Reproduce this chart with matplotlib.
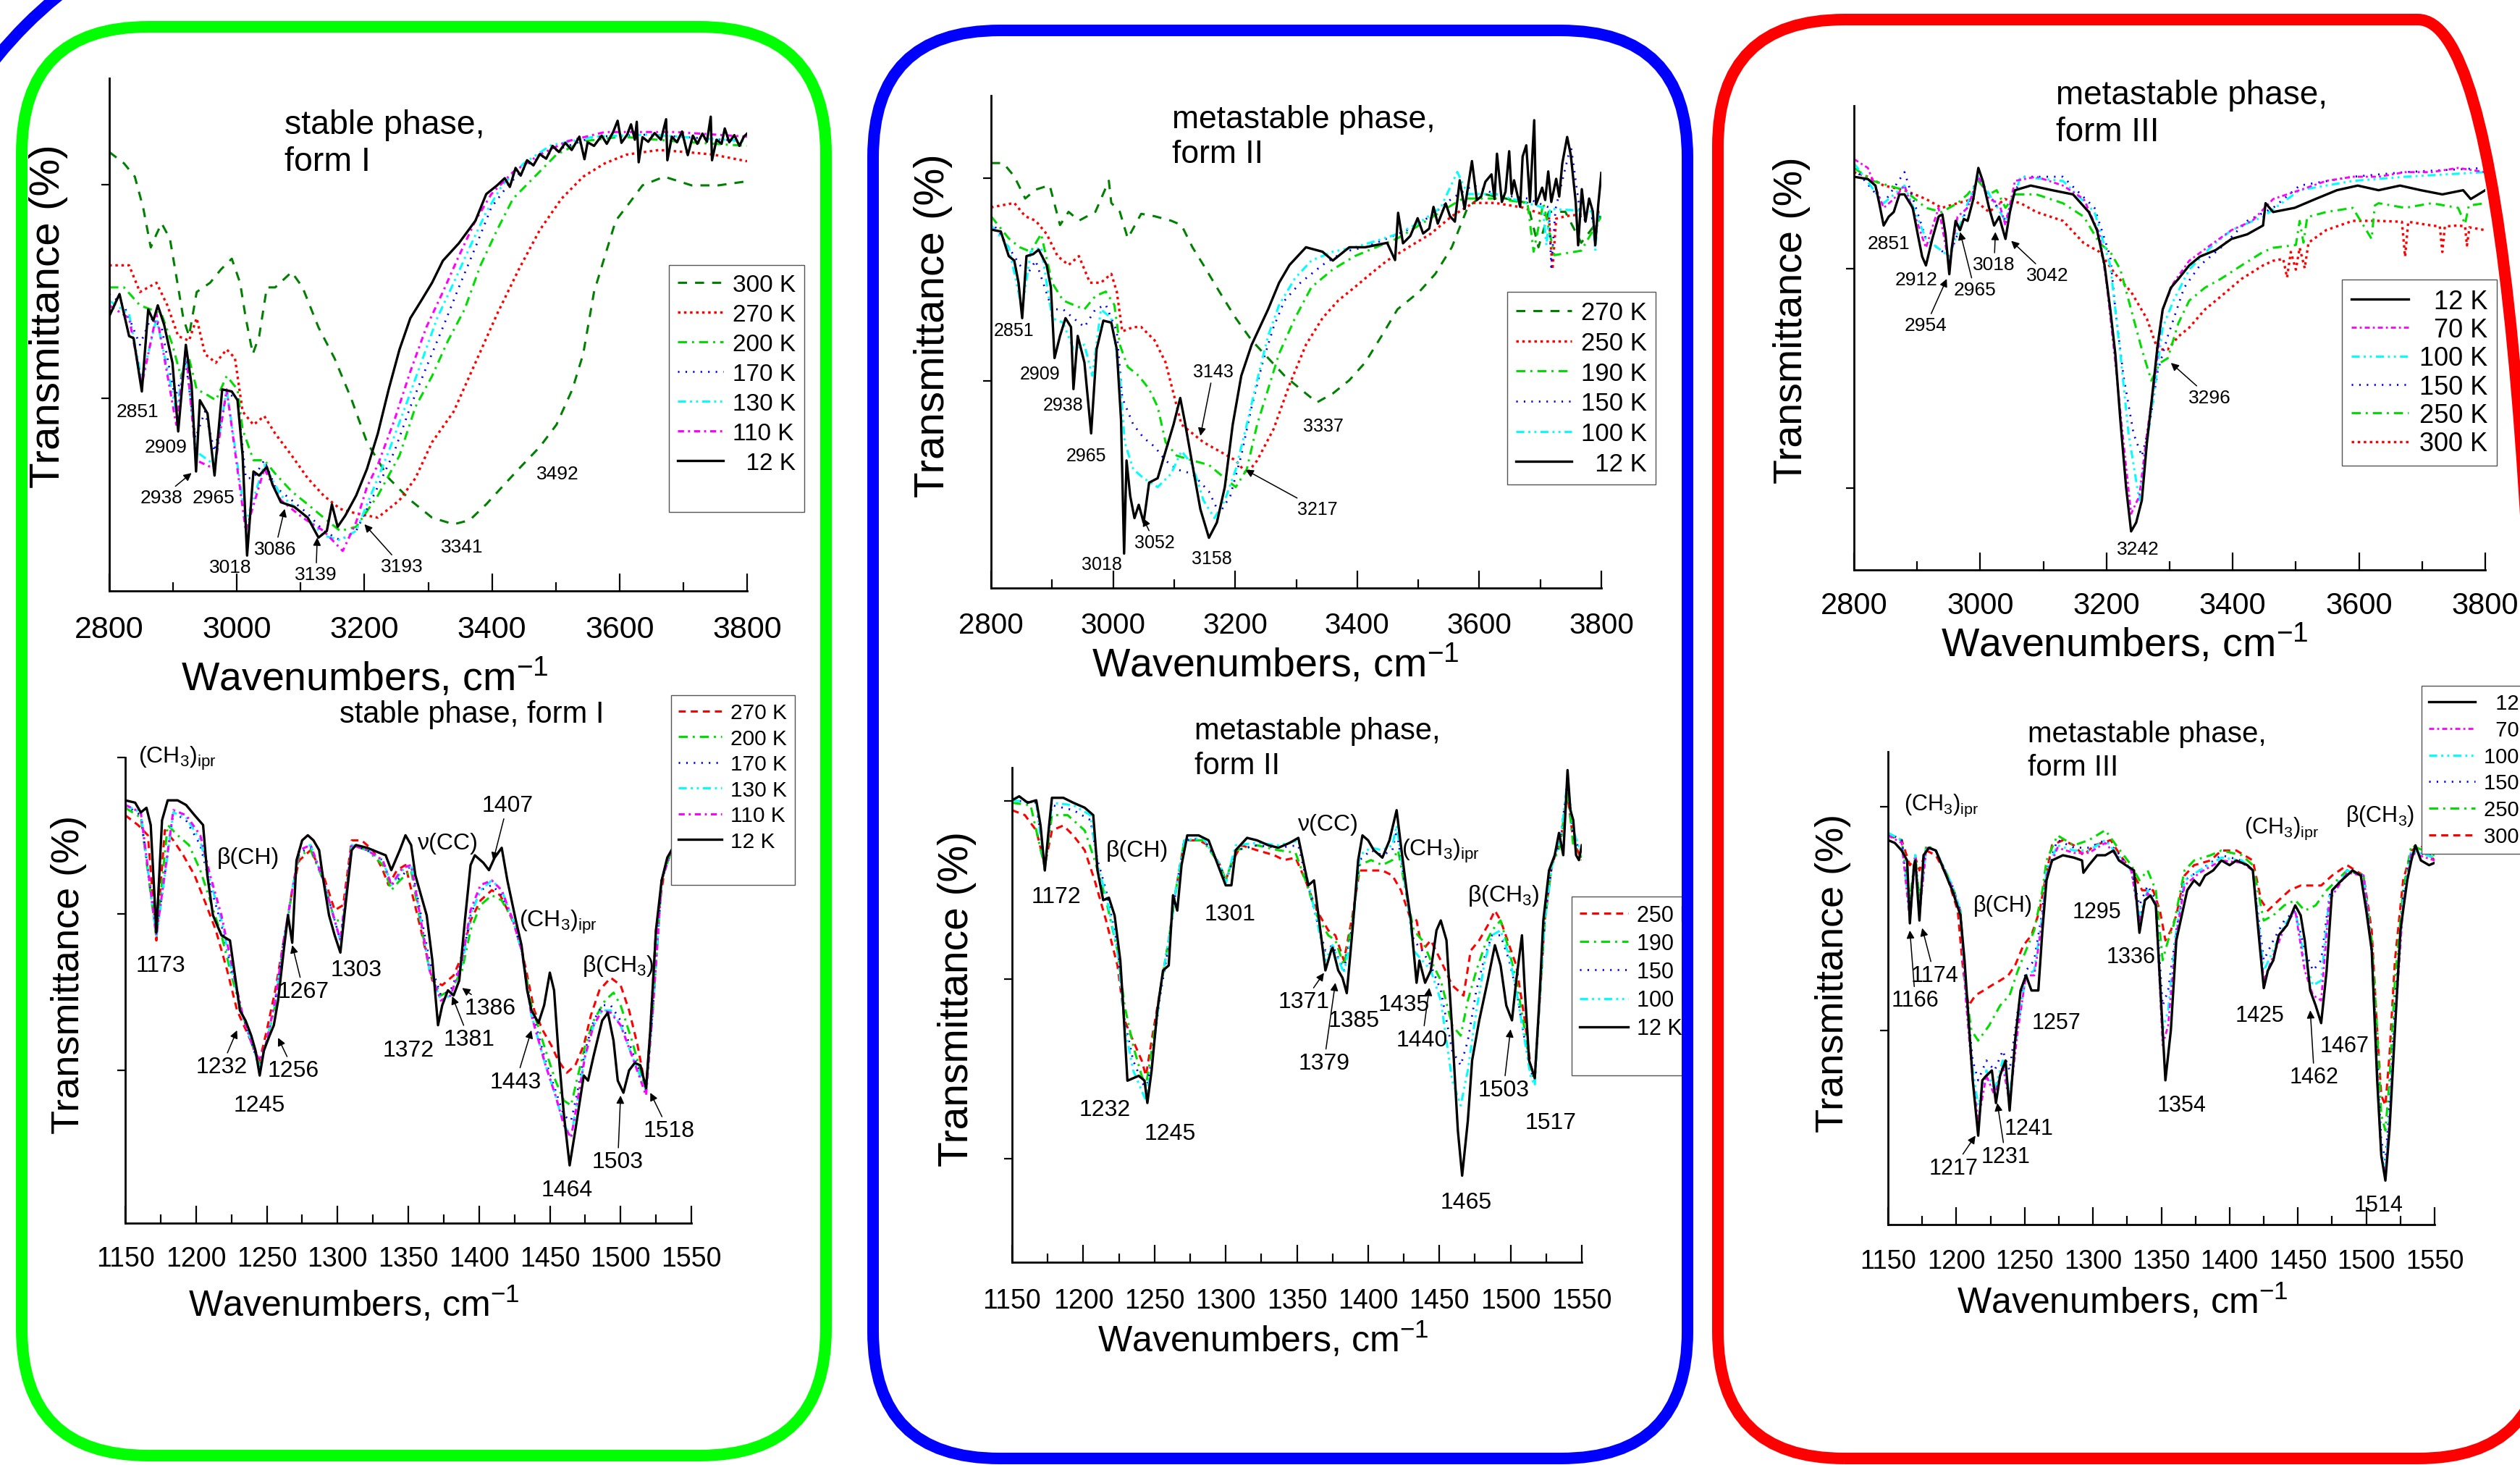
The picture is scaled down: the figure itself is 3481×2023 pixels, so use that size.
import matplotlib
matplotlib.use('Agg')
import matplotlib.pyplot as plt
from matplotlib.patches import FancyBboxPatch, Arc, Rectangle
from matplotlib.lines import Line2D
from matplotlib.transforms import IdentityTransform

plt.rcParams['font.family'] = ['Liberation Sans', 'DejaVu Sans']
plt.rcParams['mathtext.fontset'] = 'custom'
plt.rcParams['mathtext.rm'] = 'Liberation Sans'
plt.rcParams['mathtext.it'] = 'Liberation Sans:italic'
plt.rcParams['lines.scale_dashes'] = False

# ---------------- data (wavenumber, transmittance in arbitrary units) ----------------
# stable phase, form I : 2800-3800 cm-1
a_x12 = [2800, 2816, 2831, 2838, 2851, 2861, 2869, 2876, 2886, 2899, 2908, 2920, 2929, 2936, 2942, 2954, 2965, 2977, 2992, 3001,
         3009, 3016, 3026, 3035, 3047, 3056, 3069, 3090, 3111, 3128, 3141, 3149, 3158, 3170, 3187, 3204, 3221, 3238, 3255, 3272,
         3289, 3306, 3323, 3348, 3374, 3391, 3408, 3420, 3428, 3437, 3445, 3455, 3465, 3475, 3485, 3495, 3505, 3515, 3525, 3537,
         3545, 3550, 3560, 3572, 3580, 3590, 3597, 3603, 3612, 3618, 3624, 3627, 3630, 3636, 3645, 3655, 3665, 3673, 3675, 3682,
         3690, 3698, 3707, 3715, 3722, 3730, 3737, 3743, 3745, 3752, 3760, 3765, 3772, 3780, 3788, 3795, 3800]
a_y12 = [53.6, 57.9, 49.7, 49.3, 38.9, 54.9, 52.7, 55.7, 51.9, 44.5, 31.1, 48.0, 40.2, 23.3, 37.2, 34.6, 22.5, 39.3, 38.9, 37.2,
         26.4, 6.9, 23.3, 22.5, 24.2, 20.7, 17.3, 16.4, 14.3, 10.4, 11.7, 16.9, 12.5, 14.7, 18.6, 23.8, 30.7, 39.3, 47.1, 53.2,
         56.6, 60.1, 64.4, 67.8, 72.2, 77.4, 79.1, 80.5, 78.8, 82.5, 81.0, 84.0, 83.0, 85.2, 84.3, 86.8, 85.6, 87.4, 86.0, 88.6,
         84.2, 87.5, 86.8, 88.8, 87.2, 89.5, 91.7, 87.4, 89.0, 91.0, 88.0, 91.5, 83.6, 88.5, 87.6, 89.3, 88.0, 92.0, 84.0, 88.6,
         87.5, 89.6, 85.0, 88.8, 87.2, 89.2, 87.6, 92.5, 84.0, 88.0, 87.2, 90.2, 87.5, 88.9, 86.8, 88.6, 89.2]
a_x300 = [2800, 2823, 2840, 2853, 2865, 2874, 2882, 2895, 2908, 2916, 2925, 2937, 2958, 2975, 2992, 3005, 3014, 3025, 3035, 3047,
          3060, 3086, 3103, 3128, 3153, 3179, 3204, 3238, 3272, 3306, 3340, 3365, 3391, 3416, 3442, 3475, 3501, 3526, 3543, 3560,
          3577, 3594, 3615, 3636, 3670, 3713, 3755, 3800]
a_y300 = [85.6, 83.4, 80.8, 74.8, 67.0, 69.6, 71.7, 68.7, 59.2, 53.2, 49.7, 58.3, 60.1, 62.7, 64.8, 60.1, 53.2, 46.2, 49.7, 59.2,
          59.2, 62.2, 59.2, 51.4, 45.4, 37.6, 29.0, 22.0, 17.7, 14.3, 13.0, 13.8, 16.9, 20.3, 23.8, 28.1, 32.4, 39.3, 46.2, 58.3,
          65.3, 72.2, 75.6, 79.1, 80.8, 79.1, 79.1, 79.9]
a_x270 = [2800, 2831, 2848, 2874, 2891, 2908, 2925, 2937, 2950, 2967, 2984, 2997, 3009, 3026, 3043, 3060, 3086, 3111, 3136, 3162,
          3187, 3221, 3255, 3280, 3306, 3340, 3374, 3408, 3442, 3475, 3509, 3543, 3577, 3611, 3662, 3704, 3747, 3800]
a_y270 = [63.5, 63.5, 58.3, 60.1, 55.7, 49.7, 48.8, 53.2, 46.2, 44.5, 47.1, 45.4, 35.0, 32.4, 34.1, 30.7, 26.4, 22.0, 18.6, 16.0,
          15.1, 14.3, 17.7, 22.0, 29.0, 35.0, 44.5, 54.0, 62.7, 70.4, 76.5, 80.8, 83.4, 85.1, 86.0, 85.6, 85.1, 83.8]
a_x200 = [2800, 2823, 2848, 2865, 2882, 2899, 2912, 2925, 2937, 2950, 2967, 2984, 3001, 3009, 3026, 3043, 3060, 3086, 3111, 3136,
          3162, 3187, 3221, 3255, 3280, 3306, 3331, 3357, 3382, 3408, 3433, 3467, 3501, 3543, 3603, 3687, 3800]
a_y200 = [59.2, 59.2, 55.7, 54.9, 54.0, 48.0, 41.9, 45.4, 39.3, 38.5, 37.2, 41.9, 39.3, 31.5, 25.5, 25.5, 22.9, 19.4, 16.9, 14.3,
          11.7, 12.5, 18.6, 26.4, 35.9, 41.9, 48.8, 54.9, 63.5, 70.4, 76.5, 80.8, 85.1, 87.7, 88.6, 87.7, 86.8]
a_x170 = [2800, 2823, 2848, 2865, 2882, 2903, 2920, 2935, 2950, 2965, 2984, 3001, 3014, 3026, 3043, 3060, 3086, 3111, 3136, 3162,
          3187, 3221, 3247, 3272, 3297, 3323, 3348, 3374, 3399, 3425, 3458, 3501, 3560, 3645, 3800]
a_y170 = [57.9, 55.7, 48.0, 53.2, 51.4, 37.6, 44.5, 29.8, 35.0, 27.2, 38.5, 37.6, 22.0, 22.0, 25.5, 20.3, 17.7, 15.1, 11.7, 9.9,
          11.7, 20.3, 27.2, 35.9, 43.6, 51.4, 59.2, 67.0, 74.8, 79.1, 83.4, 86.0, 88.6, 89.0, 87.7]
a_x130 = [2800, 2831, 2851, 2874, 2905, 2920, 2936, 2965, 2984, 3014, 3043, 3069, 3103, 3136, 3162, 3187, 3221, 3238, 3264, 3289,
          3314, 3340, 3365, 3391, 3416, 3450, 3492, 3560, 3645, 3800]
a_y130 = [56.6, 54.0, 41.1, 53.2, 35.0, 46.2, 27.2, 24.6, 39.3, 13.4, 24.6, 18.6, 15.1, 10.8, 9.9, 11.7, 22.0, 27.2, 35.9, 44.5,
          53.2, 60.1, 67.0, 73.9, 79.1, 83.4, 86.9, 88.6, 89.0, 87.7]
a_x110 = [2800, 2831, 2851, 2874, 2905, 2920, 2936, 2965, 2984, 3014, 3043, 3069, 3103, 3136, 3166, 3187, 3204, 3221, 3247, 3272,
          3297, 3323, 3348, 3374, 3399, 3433, 3475, 3518, 3577, 3687, 3800]
a_y110 = [55.7, 53.2, 40.2, 54.0, 32.4, 47.1, 25.5, 23.8, 39.3, 11.7, 23.8, 17.7, 14.3, 11.7, 7.8, 13.4, 20.3, 24.6, 33.3, 42.8,
          51.4, 58.3, 65.3, 72.2, 77.4, 81.7, 85.1, 87.7, 89.5, 89.5, 88.6]

# metastable phase, form II : 2800-3800 cm-1
b_x12 = [2800, 2816, 2829, 2838, 2845, 2851, 2858, 2869, 2878, 2891, 2898, 2904, 2913, 2922, 2931, 2935, 2942, 2953, 2964, 2973,
         2984, 2997, 3006, 3013, 3018, 3022, 3028, 3035, 3042, 3050, 3059, 3073, 3086, 3099, 3110, 3117, 3130, 3143, 3157, 3170,
         3183, 3196, 3210, 3227, 3254, 3272, 3289, 3316, 3343, 3360, 3387, 3413, 3449, 3462, 3467, 3475, 3487, 3499, 3508, 3518,
         3525, 3532, 3545, 3552, 3560, 3568, 3576, 3588, 3596, 3603, 3610, 3620, 3625, 3629, 3637, 3643, 3649, 3653, 3657, 3667,
         3671, 3677, 3683, 3690, 3693, 3698, 3703, 3708, 3713, 3718, 3726, 3731, 3736, 3744, 3750, 3758, 3762, 3768, 3774, 3780,
         3786, 3790, 3795, 3800]
b_y12 = [72.8, 72.4, 67.4, 66.5, 62.0, 54.8, 67.4, 67.8, 68.7, 65.6, 61.1, 46.7, 51.2, 54.8, 53.0, 40.4, 51.2, 45.8, 31.4, 48.5,
         54.3, 53.9, 48.5, 34.1, 7.0, 25.9, 18.7, 14.2, 16.9, 13.3, 21.4, 22.3, 27.8, 33.2, 38.6, 34.1, 25.0, 16.0, 10.2, 13.3,
         20.5, 33.2, 43.1, 49.4, 56.6, 62.0, 65.6, 69.2, 68.3, 66.5, 69.2, 69.2, 70.1, 66.6, 76.2, 70.0, 71.5, 75.1, 72.0, 73.0,
         77.4, 74.0, 78.1, 75.5, 74.4, 82.8, 77.0, 86.7, 78.8, 79.5, 82.5, 84.0, 79.0, 88.2, 78.4, 80.5, 88.7, 80.0, 82.8, 77.4,
         87.6, 89.9, 78.4, 95.0, 77.9, 79.5, 81.3, 78.8, 84.6, 78.4, 83.1, 79.5, 86.2, 91.6, 87.9, 78.4, 69.6, 81.0, 74.4, 79.1,
         76.5, 69.6, 77.9, 84.3]
b_x270 = [2800, 2820, 2838, 2856, 2873, 2896, 2913, 2927, 2944, 2971, 2993, 2997, 3011, 3024, 3046, 3068, 3095, 3112, 3130, 3148,
          3174, 3201, 3227, 3254, 3281, 3307, 3334, 3360, 3387, 3413, 3440, 3466, 3502, 3528, 3555, 3581, 3608, 3643, 3679, 3697,
          3714, 3741, 3767, 3800]
b_y270 = [86.3, 86.3, 83.6, 79.1, 80.9, 81.8, 73.7, 76.4, 74.6, 76.4, 82.7, 78.2, 76.4, 71.0, 76.0, 75.5, 74.6, 73.7, 69.2, 65.6,
          60.2, 54.8, 50.3, 46.7, 43.1, 40.4, 37.7, 39.5, 42.2, 45.8, 51.2, 56.6, 60.2, 63.8, 69.2, 77.3, 80.0, 79.1, 78.2, 69.2,
          76.4, 76.4, 70.1, 75.5]
b_x250 = [2800, 2838, 2856, 2873, 2891, 2909, 2927, 2944, 2962, 2980, 2997, 3006, 3015, 3033, 3046, 3068, 3086, 3099, 3112, 3130,
          3148, 3174, 3201, 3219, 3236, 3263, 3289, 3316, 3343, 3369, 3396, 3422, 3449, 3484, 3520, 3555, 3590, 3626, 3670, 3714,
          3720, 3726, 3741, 3800]
b_y250 = [77.3, 78.2, 75.5, 74.6, 71.9, 67.4, 65.6, 67.4, 62.0, 62.0, 63.8, 60.2, 52.1, 53.0, 53.0, 50.3, 45.8, 39.5, 33.2, 31.4,
          29.6, 27.8, 25.9, 23.2, 25.9, 32.3, 41.3, 49.4, 54.8, 58.4, 61.1, 63.8, 66.5, 69.2, 71.9, 75.5, 78.2, 78.2, 77.3, 75.5,
          64.7, 75.0, 75.5, 76.4]
b_x190 = [2800, 2829, 2847, 2865, 2882, 2900, 2918, 2935, 2953, 2971, 2988, 3002, 3011, 3024, 3042, 3059, 3073, 3086, 3104, 3130,
          3157, 3183, 3201, 3219, 3236, 3254, 3272, 3298, 3325, 3360, 3396, 3431, 3466, 3502, 3537, 3573, 3626, 3679, 3689, 3705,
          3723, 3767, 3800]
b_y190 = [75.5, 71.0, 69.2, 68.3, 71.9, 62.0, 58.4, 57.5, 56.6, 59.3, 60.2, 57.5, 49.4, 44.9, 43.1, 40.4, 36.8, 29.6, 26.9, 25.9,
          25.0, 22.3, 20.5, 24.1, 33.2, 40.4, 47.6, 54.8, 61.1, 64.7, 67.4, 69.2, 71.0, 73.7, 76.4, 79.1, 79.1, 78.2, 68.3, 78.2,
          67.6, 68.5, 75.5]
b_x150 = [2800, 2829, 2847, 2860, 2873, 2900, 2918, 2935, 2953, 2971, 2988, 3006, 3015, 3033, 3050, 3068, 3086, 3104, 3130, 3157,
          3174, 3192, 3210, 3227, 3245, 3263, 3281, 3307, 3343, 3378, 3413, 3449, 3484, 3520, 3555, 3590, 3626, 3679, 3714, 3718,
          3725, 3750, 3767, 3800]
b_y150 = [74.6, 69.2, 65.6, 63.8, 66.5, 56.6, 56.6, 54.8, 53.0, 56.6, 57.5, 52.1, 38.6, 33.2, 30.5, 28.7, 25.9, 24.1, 23.2, 19.6,
          15.1, 18.7, 26.9, 36.8, 45.8, 53.0, 58.4, 62.0, 65.6, 68.3, 69.2, 71.0, 72.8, 75.5, 79.1, 81.8, 80.0, 79.1, 77.3, 65.2,
          77.0, 89.9, 74.6, 75.5]
b_x100 = [2800, 2829, 2851, 2865, 2882, 2900, 2918, 2935, 2953, 2966, 2980, 2997, 3011, 3019, 3033, 3050, 3073, 3095, 3112, 3130,
          3148, 3166, 3183, 3201, 3219, 3236, 3254, 3272, 3298, 3325, 3360, 3396, 3431, 3466, 3502, 3537, 3564, 3581, 3626, 3704,
          3710, 3716, 3785, 3790, 3795, 3800]
b_y100 = [73.7, 69.2, 56.6, 68.3, 69.2, 54.8, 53.9, 48.5, 49.4, 43.1, 56.6, 54.8, 43.1, 29.6, 24.1, 22.3, 20.5, 23.2, 27.8, 25.0,
          17.8, 14.2, 17.8, 24.1, 33.2, 42.2, 51.2, 57.5, 62.9, 66.5, 68.3, 69.2, 70.5, 71.9, 74.2, 77.3, 84.5, 80.0, 80.0, 77.3,
          69.6, 77.0, 76.5, 68.5, 76.0, 76.4]

# metastable phase, form III : 2800-3800 cm-1
c_x12 = [2800, 2822, 2834, 2840, 2847, 2855, 2863, 2872, 2880, 2893, 2901, 2908, 2914, 2924, 2934, 2940, 2945, 2951, 2955, 2961,
         2968, 2974, 2980, 2989, 2997, 3004, 3014, 3022, 3030, 3040, 3047, 3055, 3080, 3114, 3147, 3172, 3185, 3197, 3206, 3214,
         3222, 3231, 3239, 3247, 3256, 3264, 3272, 3281, 3289, 3302, 3314, 3331, 3348, 3373, 3398, 3423, 3448, 3452, 3464, 3498,
         3531, 3565, 3598, 3631, 3665, 3698, 3732, 3765, 3777, 3800]
c_y12 = [84.7, 84.2, 82.8, 79.0, 74.2, 76.1, 77.1, 80.9, 80.9, 78.0, 72.3, 67.5, 65.6, 71.3, 76.1, 76.6, 72.3, 63.7, 69.4, 75.2,
         73.2, 75.6, 75.2, 79.9, 86.6, 83.8, 78.0, 74.2, 76.1, 71.3, 77.1, 81.8, 82.8, 81.8, 80.9, 77.1, 73.2, 65.6, 56.1, 46.5,
         32.2, 17.9, 8.3, 10.2, 15.0, 27.4, 37.0, 48.4, 56.1, 60.8, 62.7, 65.6, 67.5, 68.9, 71.3, 72.3, 74.2, 79.0, 77.1, 78.0,
         79.9, 81.8, 82.8, 81.8, 82.8, 81.8, 80.9, 81.8, 79.9, 81.8]
c_x70 = [2800, 2822, 2847, 2863, 2880, 2914, 2934, 2951, 2964, 2980, 2997, 3014, 3030, 3040, 3055, 3089, 3131, 3164, 3189, 3201,
         3214, 3227, 3239, 3252, 3264, 3277, 3289, 3306, 3331, 3364, 3398, 3431, 3464, 3506, 3548, 3590, 3631, 3673, 3715, 3757,
         3800]
c_y70 = [88.5, 86.6, 78.0, 79.9, 82.8, 69.4, 78.0, 65.6, 76.1, 78.0, 84.7, 79.9, 79.0, 74.2, 83.8, 84.7, 82.8, 79.9, 72.3, 60.8,
         44.6, 27.4, 12.1, 15.9, 29.3, 41.7, 56.1, 61.8, 66.6, 69.9, 73.2, 75.2, 79.9, 81.8, 83.8, 84.7, 84.7, 85.7, 85.7, 86.6,
         85.7]
c_x100 = [2800, 2847, 2880, 2914, 2951, 2980, 2997, 3040, 3064, 3131, 3181, 3206, 3222, 3235, 3252, 3264, 3277, 3289, 3306, 3331,
          3364, 3398, 3448, 3506, 3590, 3673, 3800]
c_y100 = [87.6, 79.0, 82.8, 71.3, 67.5, 79.0, 84.7, 75.2, 84.7, 83.8, 77.1, 65.6, 46.5, 29.3, 15.0, 27.4, 39.8, 52.2, 58.0, 64.7,
          69.4, 73.2, 76.1, 81.8, 83.8, 84.7, 85.7]
c_x150 = [2800, 2847, 2880, 2914, 2951, 2997, 3040, 3064, 3131, 3181, 3206, 3214, 3227, 3243, 3256, 3268, 3281, 3297, 3323, 3348,
          3381, 3423, 3464, 3506, 3590, 3673, 3800]
c_y150 = [86.6, 79.0, 85.7, 71.3, 67.5, 84.7, 75.2, 84.7, 84.7, 78.0, 67.5, 56.1, 41.7, 29.3, 24.5, 31.2, 42.7, 50.3, 60.8, 65.6,
          69.4, 75.2, 78.0, 82.8, 84.7, 85.7, 86.6]
c_x250 = [2800, 2830, 2855, 2880, 2914, 2939, 2964, 2980, 2997, 3014, 3026, 3040, 3055, 3089, 3131, 3164, 3189, 3206, 3222, 3239,
          3256, 3271, 3285, 3297, 3314, 3331, 3356, 3381, 3414, 3448, 3464, 3500, 3506, 3512, 3518, 3548, 3590, 3620, 3625, 3631,
          3673, 3715, 3757, 3768, 3774, 3800]
c_y250 = [86.6, 83.8, 82.8, 81.8, 78.0, 77.1, 79.0, 80.9, 83.8, 80.9, 81.8, 78.0, 80.9, 80.9, 79.0, 76.1, 70.4, 68.5, 64.7, 56.1,
          47.5, 40.8, 44.6, 45.6, 53.2, 58.0, 60.8, 62.7, 65.6, 68.5, 69.4, 70.0, 75.2, 70.5, 76.0, 77.1, 78.0, 71.3, 78.5, 79.0,
          78.0, 79.0, 78.0, 74.5, 78.5, 79.0]
c_x300 = [2800, 2822, 2847, 2880, 2914, 2939, 2964, 2989, 3014, 3039, 3064, 3089, 3131, 3164, 3189, 3214, 3239, 3264, 3281, 3297,
          3314, 3331, 3356, 3381, 3414, 3448, 3464, 3480, 3486, 3492, 3500, 3506, 3514, 3520, 3548, 3590, 3631, 3668, 3673, 3678,
          3715, 3728, 3732, 3736, 3757, 3768, 3771, 3775, 3800]
c_y300 = [85.7, 84.7, 82.8, 81.8, 79.9, 78.0, 79.0, 79.9, 77.1, 79.9, 79.0, 77.1, 75.2, 70.4, 68.5, 63.7, 59.9, 54.1, 47.5, 47.5,
          50.3, 52.2, 56.1, 58.9, 62.7, 65.6, 66.6, 67.0, 63.0, 68.5, 64.7, 69.4, 65.0, 70.5, 73.2, 75.2, 75.2, 75.0, 67.5, 75.0,
          74.2, 74.0, 68.5, 74.0, 74.2, 74.0, 69.9, 73.8, 73.2]

# stable phase, form I : 1150-1550 cm-1
d_x12 = [1150, 1157, 1161, 1165, 1168, 1172, 1176, 1180, 1187, 1193, 1199, 1205, 1208, 1212, 1218, 1224, 1227, 1231, 1235, 1239,
         1242, 1245, 1248, 1252, 1255, 1258, 1262, 1265, 1268, 1271, 1275, 1279, 1283, 1287, 1290, 1294, 1298, 1302, 1306, 1310,
         1313, 1321, 1329, 1334, 1338, 1344, 1348, 1352, 1355, 1359, 1363, 1367, 1371, 1374, 1378, 1382, 1386, 1390, 1394, 1397,
         1403, 1407, 1411, 1416, 1420, 1426, 1430, 1434, 1437, 1442, 1446, 1450, 1453, 1456, 1460, 1464, 1468, 1474, 1477, 1481,
         1487, 1491, 1495, 1498, 1502, 1506, 1510, 1514, 1518, 1521, 1525, 1529, 1533, 1536]
d_y12 = [90.8, 90.3, 88.2, 89.2, 85.5, 62.4, 86.5, 90.8, 90.8, 89.8, 87.6, 85.5, 74.7, 66.1, 61.8, 60.7, 54.3, 45.7, 43.5, 40.3,
         37.1, 31.7, 37.1, 40.3, 42.5, 47.8, 58.6, 66.1, 60.2, 77.9, 82.2, 83.3, 82.2, 80.1, 73.6, 66.1, 61.8, 58.1, 69.3, 80.1,
         81.2, 80.6, 79.6, 79.0, 75.8, 80.1, 83.3, 81.2, 74.7, 70.4, 66.1, 56.4, 42.5, 46.8, 50.0, 48.9, 52.1, 65.0, 76.9, 79.0,
         77.4, 75.8, 78.5, 80.6, 73.6, 65.0, 59.7, 50.0, 45.7, 43.0, 46.8, 53.8, 50.0, 37.1, 23.1, 12.4, 19.9, 31.7, 30.6, 36.0,
         43.5, 45.2, 39.2, 30.6, 28.0, 32.8, 34.4, 33.9, 29.0, 41.4, 62.9, 73.6, 78.5, 80.1]
d_x270 = [1150, 1159, 1166, 1172, 1178, 1184, 1191, 1199, 1206, 1214, 1222, 1229, 1237, 1245, 1250, 1256, 1262, 1268, 1273, 1281,
          1290, 1298, 1304, 1310, 1317, 1325, 1332, 1336, 1342, 1348, 1353, 1359, 1367, 1374, 1382, 1388, 1394, 1401, 1409, 1415,
          1422, 1428, 1434, 1439, 1445, 1451, 1456, 1462, 1468, 1474, 1479, 1485, 1493, 1500, 1506, 1512, 1518, 1521, 1525, 1531,
          1536]
d_y270 = [87.6, 85.5, 83.3, 60.7, 84.4, 82.2, 79.0, 74.7, 69.3, 62.9, 54.3, 45.7, 40.3, 34.9, 41.4, 50.0, 60.7, 71.5, 77.9, 80.1,
          74.7, 67.2, 68.3, 82.2, 82.2, 80.1, 75.8, 72.6, 75.8, 76.9, 70.4, 62.9, 52.1, 51.1, 53.2, 57.5, 65.0, 69.3, 71.5, 70.4,
          66.1, 61.8, 53.2, 45.7, 41.4, 38.2, 34.9, 32.3, 33.9, 38.2, 44.6, 50.0, 52.7, 51.1, 45.7, 38.2, 28.5, 41.4, 62.9, 75.8,
          80.1]
d_x200 = [1150, 1161, 1172, 1180, 1187, 1195, 1203, 1210, 1218, 1226, 1233, 1241, 1245, 1250, 1256, 1262, 1268, 1273, 1281, 1290,
          1298, 1304, 1310, 1321, 1332, 1338, 1344, 1352, 1357, 1365, 1373, 1380, 1388, 1394, 1401, 1409, 1416, 1424, 1430, 1437,
          1447, 1454, 1460, 1465, 1469, 1475, 1481, 1489, 1495, 1500, 1508, 1518, 1523, 1529, 1536]
d_y200 = [89.2, 87.1, 61.3, 85.5, 83.3, 81.2, 75.8, 69.3, 61.8, 52.1, 44.6, 37.1, 33.9, 39.2, 46.8, 59.7, 71.5, 79.0, 80.1, 73.6,
          65.0, 65.0, 81.2, 80.1, 76.9, 71.5, 73.6, 75.8, 67.2, 54.3, 48.9, 50.0, 54.3, 62.9, 68.3, 70.4, 69.3, 65.0, 58.6, 46.8,
          37.1, 30.6, 26.3, 25.3, 30.6, 38.2, 43.5, 47.8, 49.5, 46.8, 39.2, 28.5, 46.8, 73.6, 80.1]
d_xcold = [1150, 1161, 1172, 1184, 1193, 1203, 1210, 1218, 1226, 1233, 1241, 1245, 1250, 1256, 1262, 1268, 1273, 1281, 1290, 1302,
           1310, 1321, 1332, 1338, 1346, 1352, 1357, 1365, 1373, 1380, 1388, 1394, 1401, 1409, 1416, 1424, 1430, 1437, 1447, 1454,
           1460, 1465, 1469, 1475, 1481, 1487, 1493, 1500, 1508, 1518, 1523, 1529, 1536]
d_y170 = [89.8, 87.6, 61.8, 88.2, 86.5, 81.2, 72.6, 64.0, 53.2, 44.6, 37.1, 33.3, 39.2, 47.8, 60.7, 71.5, 79.6, 80.6, 73.6, 60.7,
          81.2, 80.1, 77.9, 72.6, 74.7, 76.9, 69.3, 56.4, 48.9, 50.0, 56.4, 66.1, 71.5, 72.6, 70.4, 65.0, 58.6, 45.7, 34.9, 28.5,
          23.1, 22.0, 27.4, 37.1, 43.5, 46.8, 46.8, 43.5, 37.1, 28.5, 46.8, 73.6, 80.1]
d_y130 = [89.8, 88.2, 61.3, 88.2, 87.1, 82.2, 73.6, 65.0, 53.2, 44.6, 37.1, 33.9, 39.2, 47.8, 60.7, 71.5, 80.1, 81.2, 73.6, 60.7,
          81.2, 80.1, 77.9, 72.6, 75.8, 76.9, 68.3, 54.3, 47.8, 48.9, 55.4, 66.1, 71.5, 73.6, 71.5, 65.0, 58.6, 44.6, 33.9, 27.4,
          21.0, 18.8, 25.3, 36.0, 42.5, 45.7, 45.7, 42.5, 36.0, 28.5, 46.8, 73.6, 80.1]
d_y110 = [89.8, 88.2, 61.8, 88.7, 87.6, 83.3, 74.7, 66.1, 54.3, 44.6, 37.1, 35.0, 39.2, 47.8, 60.7, 71.5, 80.1, 81.2, 73.6, 60.7,
          81.2, 80.1, 77.9, 72.6, 76.3, 76.9, 68.3, 54.3, 47.8, 48.9, 56.4, 67.2, 72.6, 73.6, 71.5, 65.0, 58.6, 44.6, 33.9, 27.4,
          21.0, 18.3, 25.3, 36.0, 42.5, 45.7, 45.2, 42.5, 36.0, 27.4, 46.8, 73.6, 80.1]

# metastable phase, form II : 1150-1550 cm-1
e_x12 = [1150, 1155, 1161, 1167, 1170, 1173, 1176, 1178, 1186, 1193, 1201, 1207, 1210, 1214, 1218, 1222, 1226, 1228, 1231, 1235,
         1239, 1243, 1245, 1248, 1252, 1256, 1260, 1263, 1266, 1269, 1273, 1281, 1288, 1296, 1300, 1304, 1307, 1315, 1322, 1330,
         1337, 1345, 1351, 1355, 1358, 1362, 1366, 1370, 1374, 1375, 1379, 1382, 1385, 1389, 1393, 1396, 1400, 1404, 1410, 1415,
         1420, 1423, 1427, 1430, 1434, 1436, 1440, 1444, 1448, 1451, 1455, 1459, 1463, 1466, 1470, 1473, 1478, 1484, 1489, 1493,
         1497, 1501, 1504, 1508, 1510, 1513, 1517, 1520, 1523, 1527, 1531, 1534, 1537, 1540, 1542, 1544, 1546, 1548, 1550]
e_y12 = [93.4, 94.2, 92.9, 93.4, 88.3, 79.2, 88.3, 93.9, 93.9, 92.9, 91.9, 90.4, 79.2, 73.2, 73.7, 70.1, 61.0, 51.9, 36.7, 37.2,
         37.7, 36.7, 32.2, 38.8, 50.9, 59.0, 60.0, 74.2, 71.1, 80.3, 86.3, 86.3, 85.3, 79.2, 76.2, 76.2, 83.3, 85.8, 85.3, 84.3,
         83.8, 84.8, 85.8, 80.3, 76.2, 77.2, 68.1, 59.0, 63.0, 63.6, 59.0, 57.5, 54.4, 67.1, 81.3, 86.3, 85.3, 83.3, 81.8, 85.3,
         91.4, 84.3, 75.2, 69.1, 56.5, 61.0, 56.5, 59.0, 67.1, 69.1, 65.1, 46.9, 26.6, 17.5, 28.6, 40.8, 48.9, 57.0, 64.1, 60.0,
         51.9, 48.9, 57.0, 66.1, 55.0, 40.8, 37.2, 51.9, 69.1, 79.2, 82.3, 86.8, 82.3, 99.5, 91.4, 89.4, 82.3, 81.3, 84.3]
e_x250 = [1150, 1159, 1167, 1173, 1178, 1186, 1193, 1201, 1208, 1216, 1224, 1229, 1235, 1241, 1244, 1248, 1254, 1260, 1265, 1271,
          1281, 1288, 1296, 1300, 1305, 1311, 1322, 1334, 1341, 1349, 1356, 1364, 1372, 1377, 1383, 1389, 1394, 1402, 1410, 1417,
          1423, 1429, 1434, 1438, 1444, 1451, 1459, 1467, 1472, 1478, 1484, 1489, 1493, 1499, 1504, 1510, 1514, 1517, 1520, 1524,
          1529, 1535, 1540, 1544, 1550]
e_y250 = [91.4, 90.4, 87.3, 80.3, 87.3, 88.3, 86.3, 83.3, 77.2, 69.1, 60.0, 48.9, 44.8, 40.8, 37.7, 44.8, 55.0, 65.1, 75.2, 85.3,
          85.3, 84.3, 80.3, 77.2, 81.3, 84.3, 83.3, 82.3, 81.3, 81.8, 77.2, 71.1, 67.1, 66.1, 61.0, 70.1, 79.2, 79.2, 79.2, 78.2,
          75.2, 70.1, 69.1, 63.0, 65.1, 61.0, 56.0, 53.9, 63.0, 65.1, 68.1, 71.1, 69.1, 64.1, 60.0, 48.9, 39.8, 37.7, 50.9, 69.1,
          80.3, 85.3, 94.4, 85.3, 81.3]
e_x190 = [1150, 1163, 1173, 1178, 1189, 1201, 1208, 1216, 1224, 1229, 1235, 1241, 1244, 1248, 1254, 1260, 1265, 1271, 1284, 1296,
          1300, 1307, 1322, 1337, 1349, 1356, 1364, 1372, 1377, 1383, 1389, 1394, 1402, 1410, 1417, 1421, 1427, 1432, 1438, 1444,
          1451, 1459, 1465, 1470, 1476, 1482, 1487, 1493, 1499, 1504, 1510, 1514, 1517, 1520, 1524, 1529, 1535, 1540, 1544, 1550]
e_y190 = [92.9, 92.4, 79.7, 90.4, 90.4, 87.3, 81.3, 73.2, 63.0, 51.9, 43.8, 37.7, 35.7, 42.8, 55.0, 65.1, 75.2, 85.3, 85.3, 80.3,
          77.2, 83.3, 84.3, 83.3, 82.8, 77.2, 70.1, 66.1, 65.1, 60.0, 69.1, 80.3, 81.3, 80.3, 81.3, 83.3, 74.2, 67.1, 65.1, 61.0,
          57.0, 47.9, 45.8, 52.9, 59.0, 64.1, 67.1, 69.1, 63.0, 57.0, 46.9, 38.8, 36.7, 50.9, 69.1, 80.3, 84.3, 95.4, 84.3, 81.8]
e_xcold = [1150, 1167, 1173, 1178, 1193, 1205, 1210, 1216, 1224, 1229, 1235, 1241, 1244, 1248, 1254, 1260, 1265, 1271, 1284, 1296,
           1300, 1307, 1322, 1337, 1351, 1356, 1364, 1370, 1375, 1383, 1389, 1394, 1402, 1410, 1417, 1420, 1427, 1432, 1438, 1444,
           1451, 1459, 1465, 1470, 1476, 1482, 1487, 1493, 1499, 1504, 1510, 1514, 1517, 1520, 1524, 1529, 1535, 1540, 1544, 1550]
e_y150 = [93.4, 92.9, 79.4, 92.4, 91.4, 89.4, 81.3, 75.2, 64.1, 48.9, 40.8, 36.7, 34.7, 40.8, 53.9, 64.1, 75.2, 85.3, 85.8, 80.3,
          76.7, 83.3, 84.3, 83.8, 84.3, 78.2, 69.1, 63.0, 64.1, 59.0, 68.1, 81.3, 83.3, 82.3, 83.3, 87.3, 74.2, 65.1, 63.0, 60.0,
          55.0, 42.8, 39.8, 44.8, 55.0, 62.0, 66.1, 66.1, 61.0, 55.0, 44.8, 38.8, 36.7, 51.9, 69.1, 80.3, 85.3, 97.5, 86.3, 82.3]
e_y100 = [93.4, 92.9, 79.4, 92.9, 92.4, 90.4, 80.3, 74.2, 63.0, 47.9, 38.8, 34.7, 32.7, 39.8, 55.0, 65.1, 75.2, 85.3, 85.8, 80.3,
          76.7, 84.3, 84.8, 84.3, 85.3, 79.2, 69.1, 61.0, 64.1, 58.5, 67.1, 82.3, 83.8, 83.3, 84.3, 88.3, 74.2, 63.0, 61.0, 59.0,
          52.9, 36.7, 31.7, 38.8, 50.9, 61.0, 66.1, 67.1, 62.0, 55.0, 44.8, 37.7, 35.7, 50.9, 69.1, 80.3, 85.3, 97.5, 87.3, 82.3]

# metastable phase, form III : 1150-1550 cm-1
f_x12 = [1150, 1155, 1160, 1164, 1166, 1169, 1170, 1173, 1176, 1180, 1185, 1191, 1197, 1203, 1206, 1209, 1212, 1216, 1219, 1222,
         1226, 1229, 1232, 1236, 1239, 1243, 1247, 1251, 1255, 1260, 1263, 1266, 1270, 1278, 1286, 1292, 1293, 1297, 1303, 1309,
         1315, 1319, 1324, 1330, 1334, 1338, 1342, 1346, 1349, 1353, 1357, 1361, 1365, 1369, 1374, 1378, 1382, 1388, 1394, 1400,
         1405, 1413, 1417, 1421, 1425, 1428, 1432, 1436, 1442, 1448, 1452, 1455, 1459, 1463, 1467, 1471, 1475, 1482, 1490, 1496,
         1500, 1504, 1508, 1511, 1514, 1517, 1521, 1525, 1530, 1533, 1536, 1540, 1546, 1550]
f_y12 = [81.3, 80.7, 79.1, 77.0, 63.7, 76.0, 77.0, 64.3, 78.1, 79.7, 79.1, 74.9, 70.7, 65.4, 55.9, 43.2, 30.5, 18.8, 30.5, 31.5,
         32.6, 25.7, 31.5, 34.7, 24.1, 38.9, 49.5, 52.7, 49.5, 49.5, 62.2, 72.8, 77.0, 78.1, 77.6, 77.0, 74.4, 76.0, 78.1, 78.1,
         79.1, 77.0, 76.0, 74.9, 61.7, 68.6, 69.6, 67.5, 51.6, 30.5, 41.1, 60.1, 65.4, 70.7, 72.8, 71.7, 73.8, 74.9, 77.0, 76.0,
         77.0, 76.0, 74.9, 62.2, 50.0, 53.7, 55.9, 61.2, 63.3, 67.5, 65.4, 60.1, 49.5, 46.3, 42.6, 53.7, 70.7, 72.8, 74.9, 73.8,
         66.4, 58.0, 30.5, 14.6, 9.3, 19.9, 41.1, 62.2, 72.8, 77.0, 80.2, 77.0, 76.0, 76.5]
f_x300 = [1150, 1160, 1166, 1170, 1173, 1178, 1185, 1193, 1201, 1205, 1209, 1214, 1220, 1226, 1232, 1238, 1243, 1249, 1255, 1261,
          1265, 1270, 1278, 1286, 1293, 1301, 1313, 1320, 1328, 1336, 1344, 1349, 1353, 1357, 1361, 1367, 1374, 1386, 1394, 1405,
          1417, 1423, 1428, 1436, 1444, 1452, 1459, 1467, 1475, 1486, 1498, 1504, 1508, 1511, 1514, 1517, 1521, 1527, 1533, 1540,
          1550]
f_y300 = [82.3, 81.3, 76.0, 77.6, 74.9, 79.1, 78.1, 73.8, 66.4, 53.7, 46.3, 48.5, 49.5, 50.6, 51.6, 52.7, 54.8, 59.0, 61.2, 66.4,
          72.8, 80.2, 81.3, 80.2, 78.1, 80.2, 81.3, 78.1, 74.9, 70.7, 70.7, 66.4, 60.1, 62.2, 65.4, 73.8, 76.0, 77.0, 79.1, 79.1,
          77.0, 68.6, 66.4, 68.6, 70.7, 71.7, 71.7, 71.7, 73.8, 76.0, 73.8, 62.2, 41.1, 27.3, 25.2, 35.8, 55.9, 72.8, 79.1, 80.2,
          77.0]
f_x250 = [1150, 1160, 1166, 1170, 1173, 1178, 1185, 1197, 1203, 1207, 1211, 1216, 1224, 1232, 1239, 1245, 1251, 1257, 1263, 1266,
          1274, 1286, 1297, 1309, 1317, 1328, 1334, 1340, 1346, 1351, 1355, 1359, 1367, 1374, 1386, 1394, 1409, 1417, 1425, 1432,
          1440, 1448, 1455, 1463, 1471, 1486, 1498, 1504, 1508, 1511, 1514, 1517, 1521, 1527, 1533, 1550]
f_y250 = [82.8, 81.3, 68.6, 78.1, 68.6, 80.2, 79.1, 71.7, 66.4, 49.5, 41.1, 38.9, 42.1, 46.3, 48.5, 53.7, 58.0, 62.2, 70.7, 77.0,
          82.3, 80.2, 81.3, 83.4, 80.2, 76.0, 72.8, 74.9, 70.7, 55.9, 60.1, 63.3, 74.9, 77.0, 78.1, 79.1, 78.1, 76.0, 64.3, 65.4,
          67.5, 68.6, 66.4, 67.5, 70.7, 74.9, 73.8, 60.1, 41.1, 23.1, 19.9, 30.5, 51.6, 70.7, 80.2, 78.1]
f_xcold = [1150, 1160, 1166, 1170, 1173, 1178, 1185, 1197, 1203, 1207, 1212, 1216, 1222, 1228, 1234, 1239, 1245, 1251, 1257, 1263,
           1266, 1274, 1286, 1297, 1309, 1317, 1328, 1334, 1340, 1346, 1351, 1355, 1361, 1367, 1378, 1394, 1409, 1417, 1425, 1432,
           1440, 1448, 1455, 1461, 1467, 1473, 1486, 1498, 1504, 1508, 1511, 1514, 1517, 1521, 1527, 1533, 1550]
f_y150 = [82.8, 81.3, 66.4, 78.1, 66.4, 79.7, 79.1, 71.7, 66.4, 49.5, 34.7, 30.5, 34.7, 32.6, 36.8, 32.6, 45.3, 53.7, 55.9, 66.4,
          74.9, 81.3, 79.7, 79.7, 81.3, 79.1, 74.9, 67.5, 71.7, 68.6, 46.3, 49.5, 62.2, 72.8, 74.9, 78.1, 77.0, 74.9, 55.9, 60.1,
          64.3, 66.4, 58.0, 53.7, 55.9, 69.6, 74.9, 73.8, 58.0, 34.7, 17.8, 13.5, 25.2, 46.3, 69.6, 79.1, 77.6]
f_y100 = [82.8, 81.3, 65.4, 78.1, 65.9, 79.7, 79.1, 71.7, 66.4, 48.5, 32.6, 25.2, 32.6, 28.4, 34.7, 27.3, 42.1, 52.7, 53.7, 65.4,
          74.9, 80.2, 79.1, 79.1, 81.3, 78.6, 74.9, 65.4, 70.7, 68.0, 41.1, 45.3, 62.2, 72.8, 74.9, 77.6, 77.0, 74.9, 53.7, 58.0,
          63.3, 66.4, 55.9, 50.6, 51.6, 69.6, 74.9, 73.8, 58.0, 32.6, 15.7, 11.4, 23.1, 43.2, 68.6, 79.1, 77.6]
f_y70 = [82.3, 80.7, 64.3, 77.6, 65.4, 79.7, 79.1, 71.2, 65.9, 47.4, 30.5, 22.0, 31.5, 27.3, 33.6, 25.7, 41.1, 52.7, 52.7, 64.3,
         73.8, 79.7, 78.6, 78.6, 80.7, 78.1, 74.9, 64.3, 70.1, 68.0, 37.9, 42.1, 61.2, 71.7, 74.4, 77.0, 76.5, 74.9, 51.6, 56.9,
         62.7, 66.4, 53.7, 48.5, 47.4, 68.6, 74.4, 73.8, 58.0, 31.5, 14.6, 10.4, 22.0, 42.1, 67.5, 78.6, 77.0]

# peak labels: (text, text x, text y, arrow head or None)
a_peaks = [('2851', 2844, 35.0, None), ('2909', 2889, 28.1, None), ('2938', 2882, 18.2, (2929, 23.0)),
           ('2965', 2964, 18.2, None), ('3018', 2990, 4.6, None), ('3086', 3060, 8.2, (3075, 16.0)),
           ('3139', 3124, 3.2, (3126, 10.4)), ('3193', 3259, 4.8, (3200, 13.0)), ('3341', 3353, 8.6, None),
           ('3492', 3503, 22.9, None)]
b_peaks = [('2851', 2838, 52.3, None), ('2909', 2880, 43.5, None), ('2938', 2918, 37.2, None),
           ('2965', 2956, 26.9, None), ('3018', 2981, 4.8, None), ('3052', 3068, 9.3, (3049, 14.2)),
           ('3158', 3162, 6.1, None), ('3143', 3164, 44.0, (3143, 30.9)), ('3217', 3335, 16.0, (3217, 24.0)),
           ('3337', 3344, 32.9, None)]
c_peaks = [('2851', 2855, 70.4, None), ('2912', 2899, 62.6, None), ('2965', 2991, 60.4, (2968, 72.8)),
           ('2954', 2914, 52.7, (2947, 62.7)), ('3018', 3022, 65.8, (3024, 72.8)), ('3042', 3107, 63.5, (3049, 70.9)),
           ('3296', 3363, 37.2, (3302, 44.6)), ('3242', 3250, 4.5, None)]
d_peaks = [('1173', 1175, 55.4, None), ('1232', 1218, 33.6, (1229, 41.4)), ('1245', 1245, 25.3, None),
           ('1256', 1269, 32.8, (1258, 39.8)), ('1267', 1276, 49.8, (1268, 59.7)), ('1303', 1313, 54.5, None),
           ('1407', 1420, 89.8, (1410, 77.9)), ('1372', 1350, 37.1, None), ('1381', 1393, 39.5, (1381, 48.7)),
           ('1386', 1408, 46.2, (1388, 50.5)), ('1443', 1426, 30.4, (1437, 41.4)), ('1464', 1462, 7.2, None),
           ('1503', 1498, 13.2, (1500, 27.4)), ('1518', 1534, 19.9, (1521, 28.0))]
e_peaks = [('1172', 1181, 74.0, None), ('1301', 1303, 70.4, None), ('1232', 1215, 30.9, None),
           ('1245', 1261, 26.1, None), ('1371', 1355, 52.7, (1369, 58.5)), ('1379', 1369, 40.3, (1377, 56.5)),
           ('1385', 1390, 48.9, None), ('1435', 1425, 52.1, None), ('1440', 1438, 45.0, (1443, 55.5)),
           ('1465', 1469, 12.1, None), ('1503', 1495, 34.9, (1500, 47.1)), ('1517', 1528, 28.3, None)]
f_peaks = [('1166', 1170, 47.4, (1166, 62.2)), ('1174', 1184, 52.7, (1175, 62.7)), ('1217', 1198, 12.0, (1214, 18.8)),
           ('1231', 1236, 14.4, (1230, 25.7)), ('1241', 1253, 20.4, None), ('1257', 1273, 42.8, None),
           ('1295', 1303, 66.2, None), ('1336', 1328, 56.7, None), ('1354', 1365, 25.2, None),
           ('1425', 1422, 44.2, None), ('1467', 1484, 37.9, None), ('1462', 1462, 31.2, (1459, 45.3)),
           ('1514', 1509, 4.2, None)]

CH3 = '(CH$_3$)$_{\\mathrm{ipr}}$'
d_bands = [(CH3, 1187, 100.0), ('β(CH)', 1237, 78.5), ('ν(CC)', 1378, 81.7), (CH3, 1456, 64.8), ('β(CH$_3$)', 1498, 55.4)]
e_bands = [('β(CH)', 1238, 83.3), ('ν(CC)', 1372, 88.6), (CH3, 1451, 83.3), ('β(CH$_3$)', 1495, 74.2)]
f_bands = [(CH3, 1189, 88.7), ('β(CH)', 1234, 67.5), (CH3, 1438, 83.9), ('β(CH$_3$)', 1510, 86.5)]

# ---------------- styles ----------------
DKGREEN = '#008000'
K12 = dict(color='black', lw=2.4, ls='-', zorder=4)
S_dkgreen = dict(color=DKGREEN, lw=2.2, dashes=(9, 8))
S_reddot = dict(color='#ff0000', lw=2.4, dashes=(2.5, 3.5))
S_reddash = dict(color='#ff0000', lw=2.2, dashes=(7, 5))
S_green = dict(color='#00dd00', lw=2.2, dashes=(9, 5, 2, 5))
S_blue = dict(color='#0000ff', lw=2.0, dashes=(1.5, 6))
S_cyan = dict(color='#00ffff', lw=2.2, dashes=(8, 4, 2, 4, 2, 4))
S_mag = dict(color='#ff00ff', lw=2.2, dashes=(6, 4, 2, 4))
S_mag2 = dict(color='#ff00ff', lw=2.0, dashes=(5, 3, 2, 3))

W, H = 3481, 2024
fig = plt.figure(figsize=(W / 100, H / 100), dpi=100)


def add_ax(l, t, r, b):
    return fig.add_axes([l / W, 1 - b / H, (r - l) / W, (b - t) / H])


def style(ax, xlim, major, minor, yticks, fs, pad):
    ax.set_xlim(*xlim)
    ax.set_ylim(0, 100)
    ax.patch.set_alpha(0)
    for s in ['top', 'right']:
        ax.spines[s].set_visible(False)
    for s in ['left', 'bottom']:
        ax.spines[s].set_linewidth(2.0)
    ax.set_xticks(major)
    ax.set_xticks(minor, minor=True)
    ax.set_yticks(yticks)
    ax.set_yticklabels([])
    ax.tick_params(axis='x', which='major', direction='in', length=17, width=1.6, labelsize=fs, pad=pad)
    ax.tick_params(axis='x', which='minor', direction='in', length=9, width=1.6)
    ax.tick_params(axis='y', which='major', direction='out', length=8, width=1.6)


def labels(ax, xfs, xc, yfs, yc):
    ax.set_xlabel('Wavenumbers, cm$^{\\mathrm{-1}}$', fontsize=xfs)
    ax.set_ylabel('Transmittance (%)', fontsize=yfs)
    ax.xaxis.set_label_coords(*xc)
    ax.yaxis.set_label_coords(*yc)
    ax.xaxis.label.set_va('center')
    ax.yaxis.label.set_va('center')


def peaks(ax, items, fs):
    for t, x, y, head in items:
        if head is None:
            ax.text(x, y, t, fontsize=fs, ha='center', va='center')
        else:
            ax.annotate(t, xy=head, xytext=(x, y), fontsize=fs, ha='center', va='center',
                        arrowprops=dict(arrowstyle='-|>', color='black', lw=1.1, mutation_scale=16,
                                        shrinkA=1, shrinkB=0))


def legend(ax, handles, names, x, y, fs, spacing, blank=False, hl=2.2):
    hs, ns = list(handles), list(names)
    if blank:
        hs.append(Line2D([], [], color='none'))
        ns.append(' ')
    ax.legend(hs, ns, loc='upper left', bbox_to_anchor=(x / W, 1 - y / H), bbox_transform=fig.transFigure,
              fontsize=fs, frameon=True, fancybox=False, framealpha=1, edgecolor='#555555',
              borderpad=0.35, borderaxespad=0, labelspacing=spacing, handlelength=hl, handletextpad=0.4)


top_major = [2800, 3000, 3200, 3400, 3600, 3800]
top_minor = [2900, 3100, 3300, 3500, 3700]
bot_major = [1150, 1200, 1250, 1300, 1350, 1400, 1450, 1500, 1550]
bot_minor = [1175, 1225, 1275, 1325, 1375, 1425, 1475, 1525]

# ---- A ----
ax = add_ax(151, 109, 1032, 817)
style(ax, (2800, 3800), top_major, top_minor, [37.6, 79.3], 31, 24)
l300, = ax.plot(a_x300, a_y300, **S_dkgreen)
l270, = ax.plot(a_x270, a_y270, **S_reddot)
l200, = ax.plot(a_x200, a_y200, **S_green)
l170, = ax.plot(a_x170, a_y170, **S_blue)
l130, = ax.plot(a_x130, a_y130, **S_cyan)
l110, = ax.plot(a_x110, a_y110, **S_mag)
l12, = ax.plot(a_x12, a_y12, **K12)
peaks(ax, a_peaks, 19)
ax.text(3075, 87.4, 'stable phase,\nform I', fontsize=33.5, ha='left', va='center', linespacing=1.2)
labels(ax, 40, (0.400, -0.169), 42, (-0.095, 0.537))
legend(ax, [l300, l270, l200, l170, l130, l110, l12], ['300 K', '270 K', '200 K', '170 K', '130 K', '110 K', '  12 K'],
       924, 367, 24, 0.3, blank=True, hl=1.9)

# ---- B ----
ax = add_ax(1369, 133, 2212, 813)
style(ax, (2800, 3800), top_major, top_minor, [42.0, 83.2], 29, 23)
l270, = ax.plot(b_x270, b_y270, **S_dkgreen)
l250, = ax.plot(b_x250, b_y250, **S_reddot)
l190, = ax.plot(b_x190, b_y190, **S_green)
l150, = ax.plot(b_x150, b_y150, **S_blue)
l100, = ax.plot(b_x100, b_y100, **S_cyan)
l12, = ax.plot(b_x12, b_y12, **K12)
peaks(ax, b_peaks, 18)
ax.text(3097, 91.7, 'metastable phase,\nform II', fontsize=32, ha='left', va='center', linespacing=1.2)
labels(ax, 40, (0.466, -0.154), 42, (-0.095, 0.534))
legend(ax, [l270, l250, l190, l150, l100, l12], ['270 K', '250 K', '190 K', '150 K', '100 K', '  12 K'],
       2082, 404, 25, 0.25)

# ---- C ----
ax = add_ax(2561, 147, 3433, 788)
style(ax, (2800, 3800), top_major, top_minor, [17.6, 64.9], 30, 21)
l300, = ax.plot(c_x300, c_y300, **S_reddot)
l250, = ax.plot(c_x250, c_y250, **S_green)
l150, = ax.plot(c_x150, c_y150, **S_blue)
l100, = ax.plot(c_x100, c_y100, **S_cyan)
l70, = ax.plot(c_x70, c_y70, **S_mag2)
l12, = ax.plot(c_x12, c_y12, **K12)
peaks(ax, c_peaks, 19)
ax.text(3120, 98.3, 'metastable phase,\nform III', fontsize=33, ha='left', va='center', linespacing=1.2)
labels(ax, 40, (0.429, -0.158), 40, (-0.099, 0.540))
legend(ax, [l12, l70, l100, l150, l250, l300], ['  12 K', '  70 K', '100 K', '150 K', '250 K', '300 K'],
       3235, 387, 26, 0.12)

# ---- D ----
ax = add_ax(173, 1047, 955, 1690)
style(ax, (1150, 1550), bot_major, bot_minor, [32.8, 66.4, 100], 27, 22)
l270, = ax.plot(d_x270, d_y270, **S_reddash)
l200, = ax.plot(d_x200, d_y200, **S_green)
l170, = ax.plot(d_xcold, d_y170, **S_blue)
l130, = ax.plot(d_xcold, d_y130, **S_cyan)
l110, = ax.plot(d_xcold, d_y110, **S_mag)
l12, = ax.plot(d_x12, d_y12, **K12)
peaks(ax, d_peaks, 23)
for t, x, y in d_bands:
    ax.text(x, y, t, fontsize=23, ha='center', va='center')
ax.text(1395, 109.3, 'stable phase, form I', fontsize=30, ha='center', va='center')
labels(ax, 36, (0.404, -0.173), 39, (-0.100, 0.535))
legend(ax, [l270, l200, l170, l130, l110, l12], ['270 K', '200 K', '170 K', '130 K', '110 K', '12 K'],
       927, 961, 21.5, 0.25, blank=True, hl=2.0)

# ---- E ----
ax = add_ax(1398, 1061, 2185, 1744)
style(ax, (1150, 1550), bot_major, bot_minor, [21.0, 57.2, 93.2], 27, 25)
l250, = ax.plot(e_x250, e_y250, **S_reddash)
l190, = ax.plot(e_x190, e_y190, **S_green)
l150, = ax.plot(e_xcold, e_y150, **S_blue)
l100, = ax.plot(e_xcold, e_y100, **S_cyan)
l12, = ax.plot(e_x12, e_y12, **K12)
peaks(ax, e_peaks, 23)
for t, x, y in e_bands:
    ax.text(x, y, t, fontsize=23, ha='center', va='center')
ax.text(1278, 104.0, 'metastable phase,\nform II', fontsize=30, ha='left', va='center', linespacing=1.25)
labels(ax, 36, (0.441, -0.155), 41, (-0.097, 0.534))
legend(ax, [l250, l190, l150, l100, l12], ['250 K', '190 K', '150 K', '100 K', '12 K'],
       2171, 1239, 22, 0.3, blank=True)

# ---- F ----
ax = add_ax(2608, 1039, 3363, 1692)
style(ax, (1150, 1550), bot_major, bot_minor, [41.1, 88.3], 26, 24)
l300, = ax.plot(f_x300, f_y300, **S_reddash)
l250, = ax.plot(f_x250, f_y250, **S_green)
l150, = ax.plot(f_xcold, f_y150, **S_blue)
l100, = ax.plot(f_xcold, f_y100, **S_cyan)
l70, = ax.plot(f_xcold, f_y70, **S_mag2)
l12, = ax.plot(f_x12, f_y12, **K12)
peaks(ax, f_peaks, 22)
for t, x, y in f_bands:
    ax.text(x, y, t, fontsize=22, ha='center', va='center')
ax.text(1252, 100.3, 'metastable phase,\nform III', fontsize=29, ha='left', va='center', linespacing=1.25)
labels(ax, 36, (0.429, -0.161), 39, (-0.101, 0.533))
legend(ax, [l12, l70, l100, l150, l250, l300], ['  12 K', '  70 K', '100 K', '150 K', '250 K', '300 K'],
       3345, 948, 21, 0.3)

# ---------------- rounded frames (pixel coordinates) ----------------
idt = IdentityTransform()
fig.add_artist(Rectangle((2336, H - 1500), 30, 280, transform=idt, facecolor='white', edgecolor='none', zorder=9))
for (l, t, r, b), col in [((30, 38, 1141, 2011), '#00ff00'), ((1206, 43, 2331, 2015), '#0000ff'),
                           ((2373, 28, 3515, 2015), '#ff0000')]:
    fig.add_artist(FancyBboxPatch((l, H - b), r - l, b - t, boxstyle='round,pad=0,rounding_size=175',
                                  transform=idt, fill=False, edgecolor=col, lw=11.5, zorder=10))
fig.add_artist(Arc((450, H - 450), 1172, 1172, theta1=90, theta2=180, transform=idt,
                   color='#0000ff', lw=11.5, zorder=10))

fig.savefig('out.png', dpi=100)
